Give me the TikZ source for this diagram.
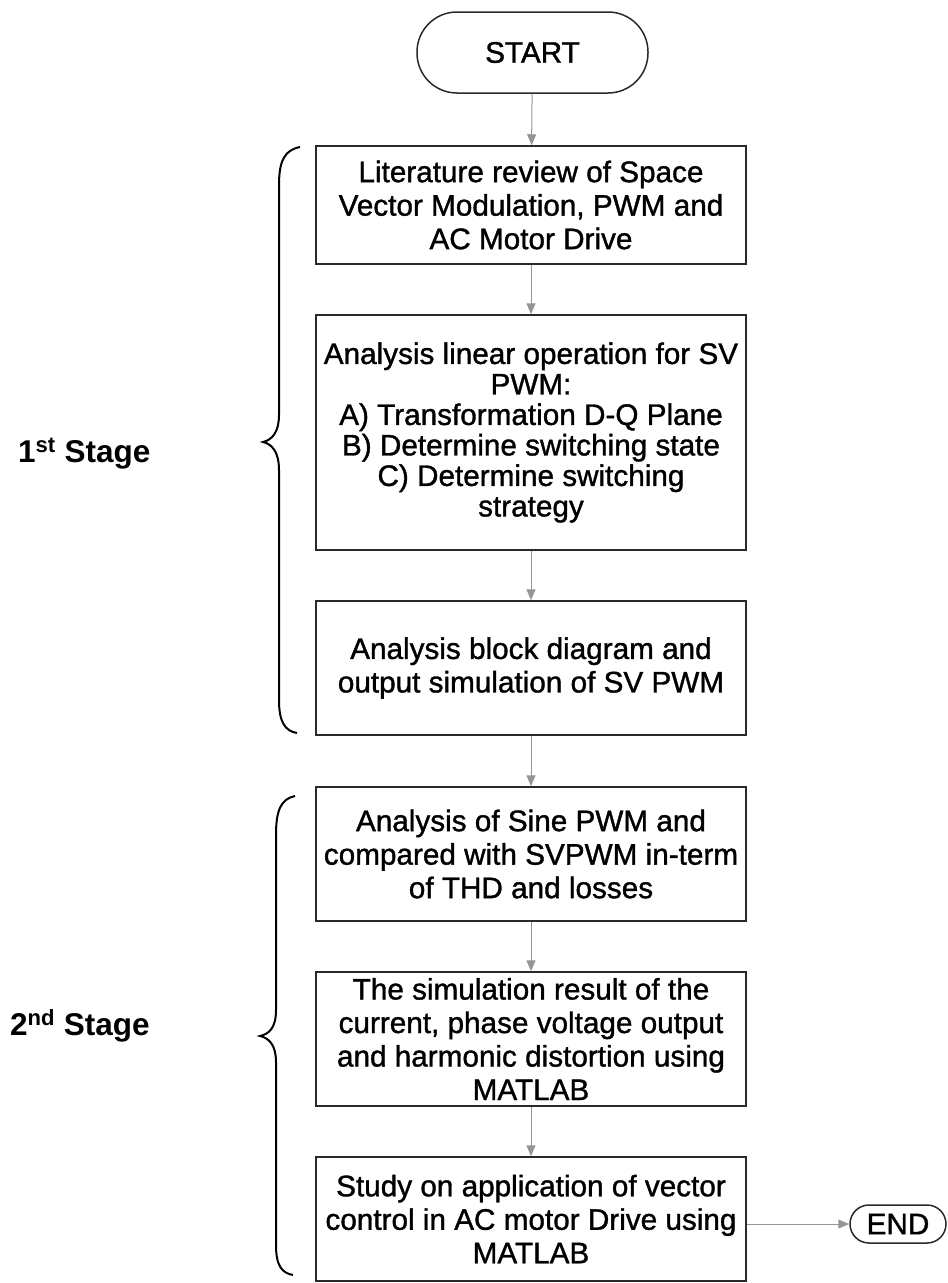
\documentclass[tikz,border=0pt]{standalone}
\usepackage{fontspec}
\setmainfont{Liberation Sans}
\newfontfamily\scanfont{Liberation Sans}[FakeBold=1.2]
\usetikzlibrary{arrows.meta}
\definecolor{arrgray}{HTML}{959595}
\definecolor{boxline}{HTML}{2A2A2A}
\tikzset{
  txt/.style={font=\scanfont\fontsize{29.7}{33.5}\selectfont, align=center, inner sep=0pt},
  stepbox/.style={txt, draw=boxline, line width=1.5pt, minimum width=430pt},
  term/.style={txt, draw=boxline, line width=1.5pt, rounded corners=#1},
  flow/.style={draw=arrgray, line width=1pt, -{Triangle[length=11pt,width=9pt,fill=arrgray]}},
  bracestyle/.style={draw=black, line width=2pt},
  stagelbl/.style={font=\fontsize{31.5}{34}\selectfont\bfseries, inner sep=0pt, anchor=base west}
}
\begin{document}
\begin{tikzpicture}[x=1pt,y=-1pt]
\useasboundingbox (0,0) rectangle (948,1283);
\node[term=40pt, minimum width=231pt, minimum height=81pt] (start) at (532.5,52.5) {START};
\node[stepbox, minimum height=118pt] (b1) at (531,205) {Literature review of Space\\Vector Modulation, PWM and\\AC Motor Drive};
\node[stepbox, minimum height=235pt, font=\scanfont\fontsize{29.7}{30.5}\selectfont] (b2) at (531,432.5) {Analysis linear operation for SV\\PWM:\\A) Transformation D-Q Plane\\B) Determine switching state\\C) Determine switching\\strategy};
\node[stepbox, minimum height=134pt] (b3) at (531,668) {Analysis block diagram and\\output simulation of SV PWM};
\node[stepbox, minimum height=134pt] (b4) at (531,854) {Analysis of Sine PWM and\\compared with SVPWM in-term\\of THD and losses};
\node[stepbox, minimum height=134pt] (b5) at (531,1039) {The simulation result of the\\current, phase voltage output\\and harmonic distortion using\\MATLAB};
\node[stepbox, minimum height=124pt] (b6) at (531,1219) {Study on application of vector\\control in AC motor Drive using\\MATLAB};
\node[term=19pt, minimum width=96pt, minimum height=38pt] (end) at (898,1224) {END};

\draw[flow] (start) -- (b1);
\draw[flow] (b1) -- (b2);
\draw[flow] (b2) -- (b3);
\draw[flow] (b3) -- (b4);
\draw[flow] (b4) -- (b5);
\draw[flow] (b5) -- (b6);
\draw[flow] (b6.east |- end.west) -- (end.west);

\draw[bracestyle] (300,147) .. controls (285,150) and (279,160) .. (279,185) -- (279,415)
  .. controls (279,432) and (272,440) .. (263,442)
  .. controls (272,444) and (279,452) .. (279,470) -- (279,700)
  .. controls (279,722) and (285,731) .. (297,733);
\draw[bracestyle] (295,796) .. controls (281,799) and (276,810) .. (276,835) -- (276,1010)
  .. controls (276,1028) and (269,1034) .. (260,1036)
  .. controls (269,1038) and (276,1045) .. (276,1062) -- (276,1245)
  .. controls (276,1266) and (282,1273) .. (293,1275);

\node[stagelbl] (s1) at (18,462) {1\textsuperscript{st} Stage};
\node[stagelbl] (s2) at (10,1035) {2\textsuperscript{nd} Stage};
\end{tikzpicture}
\end{document}
